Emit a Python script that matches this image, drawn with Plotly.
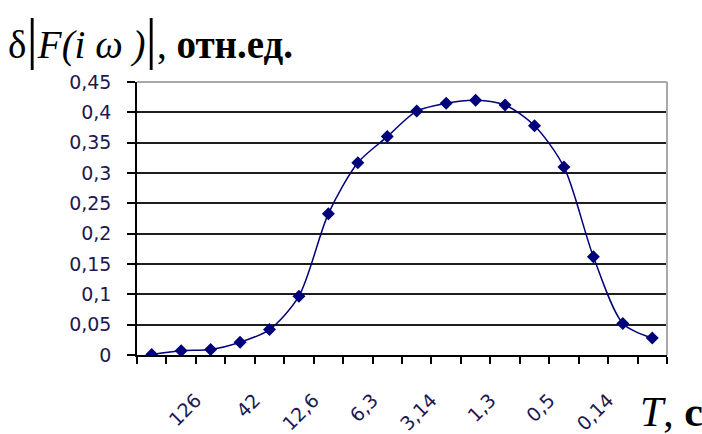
import plotly.graph_objects as go

# category index (18 periods T along the x axis)
categories = [1, 2, 3, 4, 5, 6, 7, 8, 9, 10, 11, 12, 13, 14, 15, 16, 17, 18]
values = [0.001, 0.007, 0.009, 0.021, 0.042, 0.097, 0.233, 0.317, 0.360, 0.402,
          0.415, 0.420, 0.412, 0.378, 0.310, 0.162, 0.052, 0.028]
# labels shown on every second category boundary, starting after category 2
tick_labels = ["126", "42", "12,6", "6,3", "3,14", "1,3", "0,5", "0,14"]
y_ticks = [0, 0.05, 0.1, 0.15, 0.2, 0.25, 0.3, 0.35, 0.4, 0.45]

n = len(categories)
tickvals = [c - 0.5 for c in categories] + [categories[-1] + 0.5]
ticktext = [""] * len(tickvals)
for i, lab in enumerate(tick_labels):
    ticktext[2 + 2 * i] = lab

navy = "#00007a"
label_color = "#1c1850"
tick_font = dict(family="DejaVu Sans", size=19, color=label_color)

fig = go.Figure()
fig.add_trace(go.Scatter(
    x=categories, y=values, mode="lines+markers",
    line=dict(color=navy, width=1.5, shape="spline", smoothing=0.8),
    marker=dict(symbol="diamond", size=10, color=navy),
    showlegend=False, hoverinfo="skip",
))

fig.update_layout(
    width=702, height=434,
    margin=dict(l=137, r=35, t=82, b=79, autoexpand=False),
    paper_bgcolor="white", plot_bgcolor="white",
    separators=", ",
    title=dict(
        text="δ<span style='font-size:57px'>|</span><i>F(i ω )</i>"
             "<span style='font-size:57px'>|</span>, <b>отн.ед.</b>",
        font=dict(family="Liberation Serif", size=39, color="black"),
        xref="container", yref="container", x=8 / 702, xanchor="left",
        y=1 - 44 / 434, yanchor="middle",
    ),
    xaxis=dict(
        range=[0.5, n + 0.5], tickmode="array", tickvals=tickvals, ticktext=ticktext,
        tickangle=-45, ticks="outside", ticklen=7, tickwidth=1.5, tickcolor="black",
        showline=True, linecolor="black", linewidth=1.5, showgrid=False, zeroline=False,
        tickfont=tick_font, ticklabelstandoff=18, automargin=False,
    ),
    yaxis=dict(
        range=[0, 0.45], tickmode="array", tickvals=y_ticks,
        ticks="outside", ticklen=8, tickwidth=1.5, tickcolor="black",
        showline=True, linecolor="black", linewidth=1.5,
        showgrid=True, gridcolor="#1e1e1e", gridwidth=1.5, zeroline=False,
        tickfont=tick_font, ticklabelstandoff=12, automargin=False,
    ),
    shapes=[
        dict(type="line", xref="paper", yref="paper", x0=0, x1=1, y0=1, y1=1,
             line=dict(color="#a8a8a8", width=2), layer="above"),
        dict(type="line", xref="paper", yref="paper", x0=1, x1=1, y0=0, y1=1,
             line=dict(color="#a8a8a8", width=2), layer="above"),
    ],
    annotations=[
        dict(text="<i>T</i>, <b>с</b>", xref="paper", yref="paper",
             x=(638 - 137) / 530, xanchor="left", y=(355 - 412) / 273, yanchor="middle",
             showarrow=False, font=dict(family="Liberation Serif", size=42, color="black")),
    ],
)

fig.write_html("out.html")
